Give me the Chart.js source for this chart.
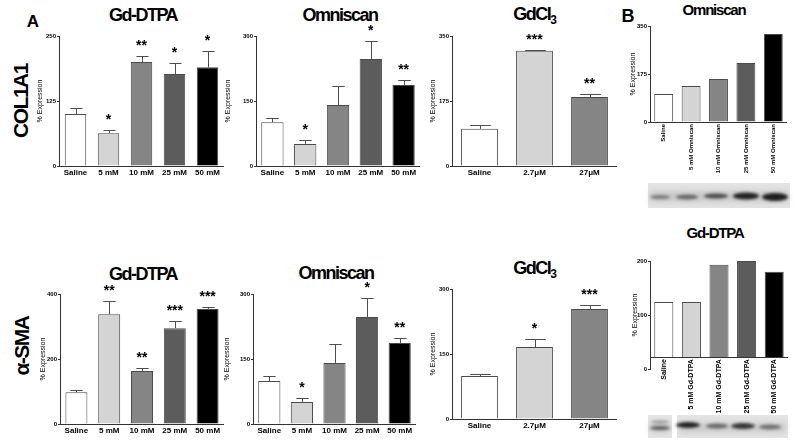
<!DOCTYPE html>
<html>
<head>
<meta charset="utf-8">
<script src="https://cdn.jsdelivr.net/npm/chart.js@4.4.0/dist/chart.umd.min.js"></script>
<style>
html, body { margin: 0; padding: 0; background: #fff; }
body { width: 800px; height: 446px; position: relative; overflow: hidden; font-family: 'Liberation Sans', Arial, sans-serif; }
canvas { position: absolute; }
.lbl { position: absolute; font-weight: bold; color: #000; white-space: nowrap; transform: translate(-50%, -50%); line-height: 1; }
.ttl { font-size: 18px; letter-spacing: -1.5px; }
.ttlB { font-size: 15px; letter-spacing: -1.2px; }
.row { font-size: 21px; letter-spacing: -1.5px; transform: translate(-50%, -50%) rotate(-90deg); }
sub { font-size: 12px; vertical-align: -4px; letter-spacing: 0; }
</style>
</head>
<body>
<div class="lbl" style="left:33px;top:21px;font-size:17px">A</div>
<div class="lbl" style="left:628px;top:16px;font-size:18px">B</div>
<div class="lbl row" style="left:20px;top:101px">COL1A1</div>
<div class="lbl row" style="left:21px;top:346px">α-SMA</div>

<div class="lbl ttl" style="left:143px;top:15px">Gd-DTPA</div>
<div class="lbl ttl" style="left:340px;top:15px">Omniscan</div>
<div class="lbl ttl" style="left:535px;top:15px">GdCl<sub>3</sub></div>
<div class="lbl ttlB" style="left:714px;top:9px">Omniscan</div>
<div class="lbl ttl" style="left:143px;top:274px">Gd-DTPA</div>
<div class="lbl ttl" style="left:336px;top:273px">Omniscan</div>
<div class="lbl ttl" style="left:535px;top:269px">GdCl<sub>3</sub></div>
<div class="lbl ttlB" style="left:715px;top:232px">Gd-DTPA</div>

<script>
Chart.defaults.font.family = "'Liberation Sans', Arial, sans-serif";

// categories
const doseLabels = ['Saline', '5 mM', '10 mM', '25 mM', '50 mM'];
const gdcl3Labels = ['Saline', '2.7μM', '27μM'];
const omniWbLabels = ['Saline', '5 mM Omniscan', '10 mM Omniscan', '25 mM Omniscan', '50 mM Omniscan'];
const gdWbLabels = ['Saline', '5 mM Gd-DTPA', '10 mM Gd-DTPA', '25 mM Gd-DTPA', '50 mM Gd-DTPA'];

// COL1A1
const colGdValues = [100, 63, 200, 177, 190];
const colGdSem = [11, 6, 11, 21, 31];
const colGdStars = ['', '*', '**', '*', '*'];
const colOmniValues = [101, 51, 141, 247, 187];
const colOmniSem = [10, 9, 44, 42, 11];
const colOmniStars = ['', '*', '', '*', '**'];
const colGdcl3Values = [100, 310, 186];
const colGdcl3Sem = [10, 2, 8];
const colGdcl3Stars = ['', '***', '**'];

// alpha-SMA
const smaGdValues = [98, 338, 163, 295, 354];
const smaGdSem = [6, 40, 9, 22, 6];
const smaGdStars = ['', '**', '**', '***', '***'];
const smaOmniValues = [99, 51, 141, 247, 187];
const smaOmniSem = [12, 9, 44, 43, 11];
const smaOmniStars = ['', '*', '', '*', '**'];
const smaGdcl3Values = [99, 166, 254];
const smaGdcl3Sem = [5, 18, 9];
const smaGdcl3Stars = ['', '*', '***'];

// western blot quantification (B)
const omniWbValues = [102, 131, 157, 215, 321];
const gdWbValues = [124, 124, 193, 200, 180];

// y axis maxima
const colGdMax = 250, colOmniMax = 300, colGdcl3Max = 350;
const smaGdMax = 400, smaOmniMax = 300, smaGdcl3Max = 300;
const omniWbMax = 350, gdWbMax = 200;

const greys5 = ['#ffffff', '#d4d4d4', '#858585', '#5c5c5c', '#000000'];
const greys3 = ['#ffffff', '#d4d4d4', '#858585'];

const PAD_TOP = 20;

function makePanel(p) {
    const cv = document.createElement('canvas');
    cv.width = p.w;
    cv.height = p.h;
    cv.style.left = p.left + 'px';
    cv.style.top = p.top + 'px';
    document.body.appendChild(cv);

    const errs = p.sem || [];
    const stars = p.stars || [];

    // up-only error bars plus significance stars
    const errorBars = {
        id: 'errorBars',
        afterDatasetsDraw(chart) {
            const meta = chart.getDatasetMeta(0);
            const ys = chart.scales.y;
            const ctx = chart.ctx;
            ctx.save();
            ctx.strokeStyle = '#4d4d4d';
            ctx.lineWidth = 1;
            ctx.fillStyle = '#000';
            ctx.font = "bold 14px 'Liberation Sans', Arial, sans-serif";
            ctx.textAlign = 'center';
            ctx.textBaseline = 'alphabetic';
            meta.data.forEach((bar, i) => {
                let topPx = bar.y;
                if (errs[i] != null) {
                    const ey = Math.round(ys.getPixelForValue(chart.data.datasets[0].data[i] + errs[i])) + 0.5;
                    const x = Math.round(bar.x) + 0.5;
                    const half = bar.width * 0.28;
                    ctx.beginPath();
                    ctx.moveTo(x, bar.y);
                    ctx.lineTo(x, ey);
                    ctx.moveTo(x - half, ey);
                    ctx.lineTo(x + half, ey);
                    ctx.stroke();
                    topPx = ey;
                }
                if (stars[i]) ctx.fillText(stars[i], bar.x, topPx - 7);
            });
            ctx.restore();
        }
    };

    return new Chart(cv, {
        type: 'bar',
        data: {
            labels: p.labels,
            datasets: [{
                data: p.values,
                backgroundColor: p.colors,
                borderColor: '#4a4a4a',
                borderWidth: 1,
                borderSkipped: 'start',
                barPercentage: p.barPct,
                categoryPercentage: 1,
                base: p.base
            }]
        },
        options: {
            responsive: false,
            animation: false,
            events: [],
            layout: { padding: { top: PAD_TOP, left: 0, right: 0, bottom: p.padBottom || 0 } },
            plugins: {
                legend: { display: false },
                tooltip: { enabled: false },
                title: { display: false }
            },
            scales: {
                x: {
                    position: p.xPos || 'bottom',
                    grid: { display: false, drawTicks: false },
                    border: { display: true, color: '#333', width: 1 },
                    ticks: {
                        color: '#000',
                        font: { size: p.xFont, weight: 'bold' },
                        padding: 2,
                        autoSkip: false,
                        minRotation: p.rot || 0,
                        maxRotation: p.rot || 0
                    },
                    afterFit(s) { s.height = p.xH; }
                },
                y: {
                    min: 0,
                    max: p.yMax,
                    grid: { display: true, drawOnChartArea: false, drawTicks: true, tickLength: 2, color: '#333' },
                    border: { display: true, color: '#333', width: 1 },
                    ticks: {
                        stepSize: p.yMax / 2,
                        color: '#000',
                        font: { size: 6, weight: 'bold' },
                        padding: 1
                    },
                    title: {
                        display: true,
                        text: '% Expression',
                        color: '#000',
                        font: { size: 7 },
                        padding: 0
                    },
                    afterFit(s) { s.width = p.yW; }
                }
            }
        },
        plugins: [errorBars]
    });
}

// row 1: COL1A1
makePanel({ left: 36, top: 16, w: 188, h: 164, yW: 23, xH: 14, xFont: 8, barPct: 0.65,
    labels: doseLabels, values: colGdValues, sem: colGdSem, stars: colGdStars, colors: greys5, yMax: colGdMax });
makePanel({ left: 224, top: 16, w: 196, h: 164, yW: 32, xH: 14, xFont: 8, barPct: 0.68,
    labels: doseLabels, values: colOmniValues, sem: colOmniSem, stars: colOmniStars, colors: greys5, yMax: colOmniMax });
makePanel({ left: 429, top: 16, w: 188, h: 164, yW: 23, xH: 14, xFont: 8, barPct: 0.67,
    labels: gdcl3Labels, values: colGdcl3Values, sem: colGdcl3Sem, stars: colGdcl3Stars, colors: greys3, yMax: colGdcl3Max });

// row 2: alpha-SMA
makePanel({ left: 39, top: 274, w: 185, h: 164, yW: 21, xH: 14, xFont: 8, barPct: 0.67,
    labels: doseLabels, values: smaGdValues, sem: smaGdSem, stars: smaGdStars, colors: greys5, yMax: smaGdMax });
makePanel({ left: 223, top: 274, w: 193, h: 164, yW: 30, xH: 14, xFont: 8, barPct: 0.68,
    labels: doseLabels, values: smaOmniValues, sem: smaOmniSem, stars: smaOmniStars, colors: greys5, yMax: smaOmniMax });
makePanel({ left: 429, top: 269, w: 188, h: 164, yW: 23, xH: 14, xFont: 8, barPct: 0.67,
    labels: gdcl3Labels, values: smaGdcl3Values, sem: smaGdcl3Sem, stars: smaGdcl3Stars, colors: greys3, yMax: smaGdcl3Max });

// B: western blot quantification
makePanel({ left: 629, top: 6, w: 158, h: 168, yW: 21, xH: 52, xFont: 6, barPct: 0.69, rot: 90,
    labels: omniWbLabels, values: omniWbValues, colors: greys5, yMax: omniWbMax });
makePanel({ left: 631, top: 241, w: 157, h: 173, yW: 19, xH: 45, xFont: 7, barPct: 0.69, rot: 90,
    xPos: { y: 22 }, base: 22, padBottom: 45,
    labels: gdWbLabels, values: gdWbValues, colors: greys5, yMax: gdWbMax });

// blot strips under the B charts
function drawBlot(left, top, pieces, bands) {
    const cv = document.createElement('canvas');
    cv.width = 160;
    cv.height = 40;
    cv.style.left = left + 'px';
    cv.style.top = top + 'px';
    document.body.appendChild(cv);
    const ctx = cv.getContext('2d');
    pieces.forEach(r => {
        ctx.fillStyle = '#e4e4e4';
        ctx.fillRect(r[0], r[1], r[2], r[3]);
        ctx.save();
        ctx.filter = 'blur(3px)';
        ctx.fillStyle = 'rgba(150,150,150,0.35)';
        ctx.fillRect(r[0] + 2, r[1] + 8, r[2] - 4, r[3] - 14);
        ctx.restore();
    });
    ctx.save();
    ctx.filter = 'blur(1.4px)';
    bands.forEach(b => {
        ctx.fillStyle = 'rgba(20,20,20,' + b[4] + ')';
        ctx.beginPath();
        ctx.ellipse(b[0], b[1], b[2] / 2, b[3] / 2, 0, 0, Math.PI * 2);
        ctx.fill();
    });
    ctx.restore();
}

drawBlot(640, 175, [[8, 8, 142, 25]], [
    [20, 22, 20, 4, 0.45], [47, 22, 22, 5, 0.55], [76, 21, 24, 5, 0.7], [106, 21, 26, 7, 0.92], [135, 22, 26, 8, 0.95]
]);
drawBlot(640, 405, [[8, 10, 24, 23], [37, 10, 111, 23]], [
    [20, 17, 18, 3, 0.35], [20, 23, 20, 4, 0.6], [48, 20, 24, 6, 0.92], [77, 21, 22, 5, 0.55], [103, 21, 24, 6, 0.82], [130, 22, 22, 5, 0.5]
]);
</script>
</body>
</html>
